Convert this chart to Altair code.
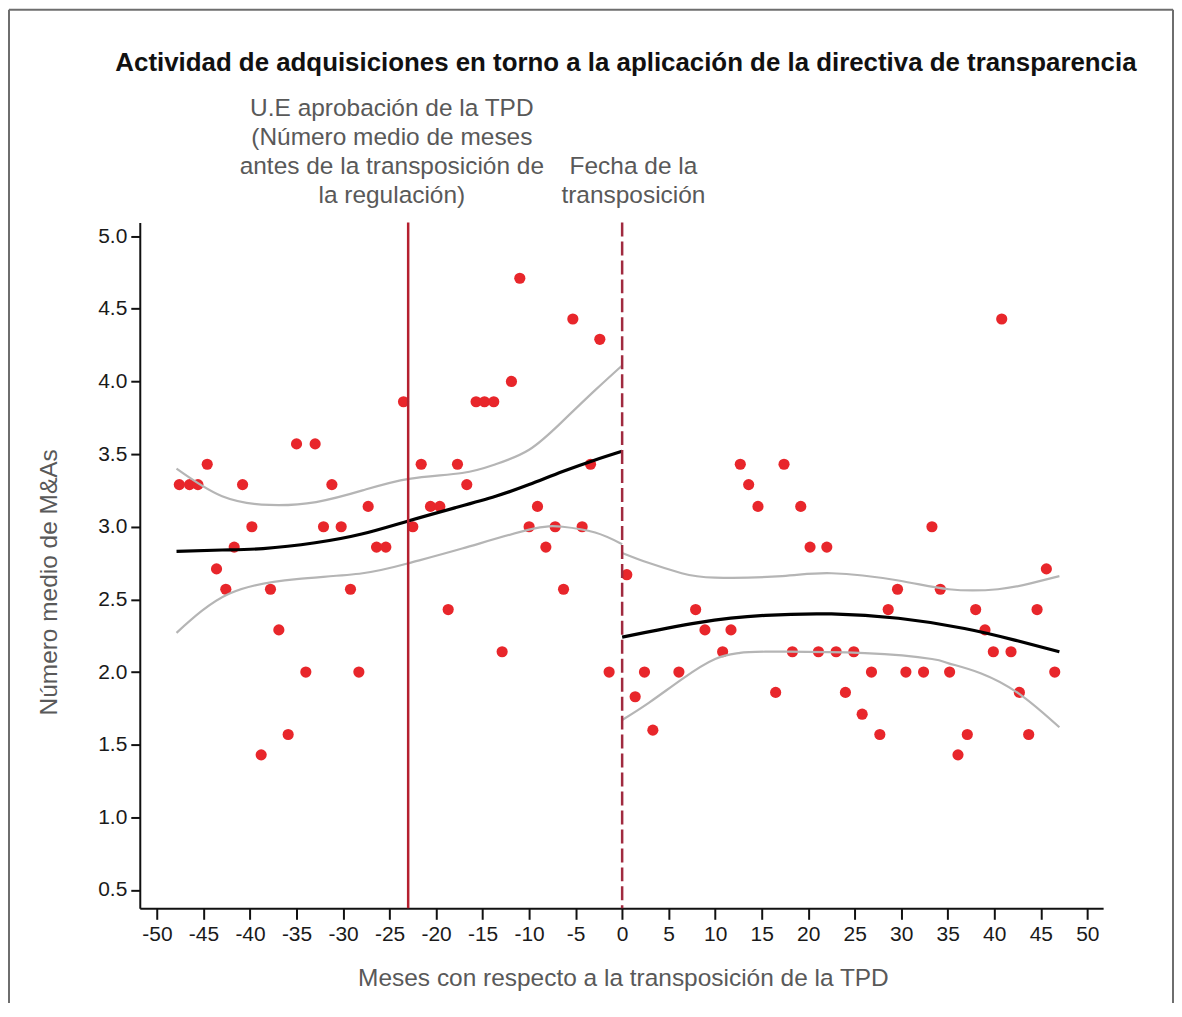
import altair as alt
import pandas as pd

# ---------------- data ----------------
pre_month = [-47.6, -46.5, -45.6, -44.6, -43.6, -42.6, -41.7, -40.8, -39.8, -38.8,
             -37.8, -36.9, -35.9, -35.0, -34.0, -33.0, -32.1, -31.2, -30.2, -29.2,
             -28.3, -27.3, -26.4, -25.4, -23.5, -22.5, -21.6, -20.6, -19.6, -18.7,
             -17.7, -16.7, -15.7, -14.8, -13.8, -12.9, -11.9, -11.0, -10.0, -9.1,
             -8.2, -7.2, -6.3, -5.3, -4.3, -3.4, -2.4, -1.4]
pre_value = [3.29, 3.29, 3.29, 3.43, 2.71, 2.57, 2.86, 3.29, 3.00, 1.43,
             2.57, 2.29, 1.57, 3.57, 2.00, 3.57, 3.00, 3.29, 3.00, 2.57,
             2.00, 3.14, 2.86, 2.86, 3.86, 3.00, 3.43, 3.14, 3.14, 2.43,
             3.43, 3.29, 3.86, 3.86, 3.86, 2.14, 4.00, 4.71, 3.00, 3.14,
             2.86, 3.00, 2.57, 4.43, 3.00, 3.43, 4.29, 2.00]

post_month = [0.5, 1.4, 2.4, 3.3, 6.1, 7.9, 8.9, 10.8, 11.7, 12.7,
              13.6, 14.6, 16.5, 17.4, 18.3, 19.2, 20.2, 21.1, 22.0, 23.0,
              24.0, 24.9, 25.8, 26.8, 27.7, 28.6, 29.6, 30.5, 32.4, 33.3,
              34.2, 35.2, 36.1, 37.1, 38.0, 39.0, 39.9, 40.8, 41.8, 42.7,
              43.7, 44.6, 45.6, 46.5]
post_value = [2.67, 1.83, 2.00, 1.60, 2.00, 2.43, 2.29, 2.14, 2.29, 3.43,
              3.29, 3.14, 1.86, 3.43, 2.14, 3.14, 2.86, 2.14, 2.86, 2.14,
              1.86, 2.14, 1.71, 2.00, 1.57, 2.43, 2.57, 2.00, 2.00, 3.00,
              2.57, 2.00, 1.43, 1.57, 2.43, 2.29, 2.14, 4.43, 2.14, 1.86,
              1.57, 2.43, 2.71, 2.00]

# fitted curve and confidence band, before the transposition
fit_pre_x = [-47.9, -43.0, -38.6, -33.0, -28.0, -23.0, -18.0, -13.6, -10.0, -6.4, -2.9, 0.0]
fit_pre_y = [2.83, 2.84, 2.85, 2.89, 2.95, 3.04, 3.13, 3.21, 3.29, 3.38, 3.46, 3.52]
upper_pre_x = [-47.9, -43.0, -37.9, -32.9, -27.9, -22.9, -17.2, -13.6, -10.0, -6.5, -2.9, 0.0]
upper_pre_y = [3.40, 3.21, 3.15, 3.17, 3.25, 3.33, 3.37, 3.43, 3.53, 3.72, 3.94, 4.11]
lower_pre_x = [-47.9, -42.2, -35.0, -27.9, -22.9, -17.2, -10.0, -6.4, -2.9, 0.0]
lower_pre_y = [2.27, 2.54, 2.64, 2.68, 2.75, 2.85, 2.98, 3.00, 2.96, 2.88]

# fitted curve and confidence band, after the transposition
fit_post_x = [0.0, 8.2, 15.4, 22.5, 29.7, 36.8, 42.2, 47.0]
fit_post_y = [2.24, 2.34, 2.39, 2.40, 2.37, 2.30, 2.22, 2.14]
upper_post_x = [0.0, 2.9, 6.4, 10.0, 17.2, 22.5, 29.7, 35.1, 40.4, 43.9, 47.0]
upper_post_y = [2.82, 2.75, 2.68, 2.65, 2.66, 2.68, 2.63, 2.57, 2.57, 2.61, 2.66]
lower_post_x = [0.0, 2.9, 6.4, 10.0, 12.5, 15.4, 26.1, 33.3, 35.1, 38.6, 42.9, 47.0]
lower_post_y = [1.67, 1.79, 1.95, 2.09, 2.13, 2.14, 2.13, 2.09, 2.06, 1.99, 1.84, 1.62]

event_month = [-23, 0]
event_kind = ["aprobacion", "transposicion"]

x_ticks = list(range(-50, 55, 5))
y_ticks = [0.5, 1.0, 1.5, 2.0, 2.5, 3.0, 3.5, 4.0, 4.5, 5.0]

title_text = "Actividad de adquisiciones en torno a la aplicación de la directiva de transparencia"
note_approval = ["U.E aprobación de la TPD", "(Número medio de meses",
                 "antes de la transposición de", "la regulación)"]
note_transp = ["Fecha de la", "transposición"]
x_title = "Meses con respecto a la transposición de la TPD"
y_title = "Número medio de M&As"

# ---------------- tables ----------------
points_df = pd.DataFrame({"x": pre_month + post_month, "y": pre_value + post_value})

rows = []
for name, band, xs, ys in [
    ("pre_fit", "fit", fit_pre_x, fit_pre_y),
    ("pre_up", "ci", upper_pre_x, upper_pre_y),
    ("pre_lo", "ci", lower_pre_x, lower_pre_y),
    ("post_fit", "fit", fit_post_x, fit_post_y),
    ("post_up", "ci", upper_post_x, upper_post_y),
    ("post_lo", "ci", lower_post_x, lower_post_y),
]:
    for xv, yv in zip(xs, ys):
        rows.append({"curve": name, "band": band, "x": xv, "y": yv})
curves_df = pd.DataFrame(rows)
events_df = pd.DataFrame({"x": event_month, "kind": event_kind})

# ---------------- chart ----------------
W, H = 965, 687
x_scale = alt.Scale(domain=[-51.85, 51.7], nice=False, zero=False)
y_scale = alt.Scale(domain=[0.374, 5.094], nice=False, zero=False)
SANS = "Liberation Sans, Arial, Helvetica, sans-serif"

points = alt.Chart(points_df).mark_circle(size=125, color="#e8262b", opacity=1).encode(
    x=alt.X("x:Q", scale=x_scale,
            axis=alt.Axis(values=x_ticks, title=x_title, titleX=484, titleY=70,
                          labelExpr="toString(datum.value)",
                          titleBaseline="middle", titleAlign="center")),
    y=alt.Y("y:Q", scale=y_scale,
            axis=alt.Axis(values=y_ticks, format=".1f", title=y_title,
                          titleX=-90, titleY=360, titleAngle=270,
                          titleBaseline="middle", titleAlign="center")),
)

ci_lines = alt.Chart(curves_df).transform_filter(alt.datum.band == "ci").mark_line(
    color="#b5b5b5", strokeWidth=2.2, interpolate="natural"
).encode(x=alt.X("x:Q", scale=x_scale), y=alt.Y("y:Q", scale=y_scale), detail="curve:N")

fit_lines = alt.Chart(curves_df).transform_filter(alt.datum.band == "fit").mark_line(
    color="#000000", strokeWidth=3.2, interpolate="natural"
).encode(x=alt.X("x:Q", scale=x_scale), y=alt.Y("y:Q", scale=y_scale), detail="curve:N")

approval_rule = alt.Chart(events_df).transform_filter(alt.datum.kind == "aprobacion").mark_rule(
    color="#b5202f", strokeWidth=2.5
).encode(x=alt.X("x:Q", scale=x_scale))

transp_rule = alt.Chart(events_df).transform_filter(alt.datum.kind == "transposicion").mark_rule(
    color="#a02a3f", strokeWidth=2.5, strokeDash=[14, 5]
).encode(x=alt.X("x:Q", scale=x_scale))

one = pd.DataFrame({"k": [0]})
FX0, FX1, FY0, FY1 = -131, 1035, -213, 790
frame = [
    alt.Chart(one).mark_rule(color="#6e6e6e", strokeWidth=2).encode(
        x=alt.value(FX0), x2=alt.value(FX1), y=alt.value(FY0)),
    alt.Chart(one).mark_rule(color="#6e6e6e", strokeWidth=2).encode(
        x=alt.value(FX0), y=alt.value(FY0), y2=alt.value(FY1)),
    alt.Chart(one).mark_rule(color="#6e6e6e", strokeWidth=2).encode(
        x=alt.value(FX1), y=alt.value(FY0), y2=alt.value(FY1)),
]

texts = []
texts.append(
    alt.Chart(pd.DataFrame({"t": [title_text]})).mark_text(
        font=SANS, fontSize=25.9, fontWeight="bold", color="#111111",
        align="center", baseline="middle"
    ).encode(text="t:N", x=alt.value(487), y=alt.value(-160))
)
for i, line in enumerate(note_approval):
    texts.append(
        alt.Chart(pd.DataFrame({"t": [line]})).mark_text(
            font=SANS, fontSize=24.5, color="#595959", align="center", baseline="middle"
        ).encode(text="t:N", x=alt.value(252.5), y=alt.value(-114 + 29 * i))
    )
for i, line in enumerate(note_transp):
    texts.append(
        alt.Chart(pd.DataFrame({"t": [line]})).mark_text(
            font=SANS, fontSize=24.5, color="#595959", align="center", baseline="middle"
        ).encode(text="t:N", x=alt.value(494.5), y=alt.value(-56 + 29 * i))
    )

chart = alt.layer(
    *frame, points, ci_lines, fit_lines, approval_rule, transp_rule, *texts
).properties(
    width=W, height=H,
    padding={"left": 132, "top": 214, "right": 71, "bottom": 94},
    autosize=alt.AutoSizeParams(type="none"),
    background="white",
).configure_view(
    stroke=None
).configure_axis(
    grid=False,
    domainColor="#111111", domainWidth=2,
    tickColor="#111111", tickWidth=2,
    labelFont=SANS, labelFontSize=21, labelColor="#1a1a1a",
    labelFlush=False, labelOverlap=False,
    titleFont=SANS, titleFontSize=24.5, titleColor="#595959", titleFontWeight="normal",
).configure_axisX(
    tickSize=11, labelPadding=4,
).configure_axisY(
    tickSize=9, labelPadding=4,
)

chart.save("out.html", embed_options={"renderer": "svg", "actions": False})
